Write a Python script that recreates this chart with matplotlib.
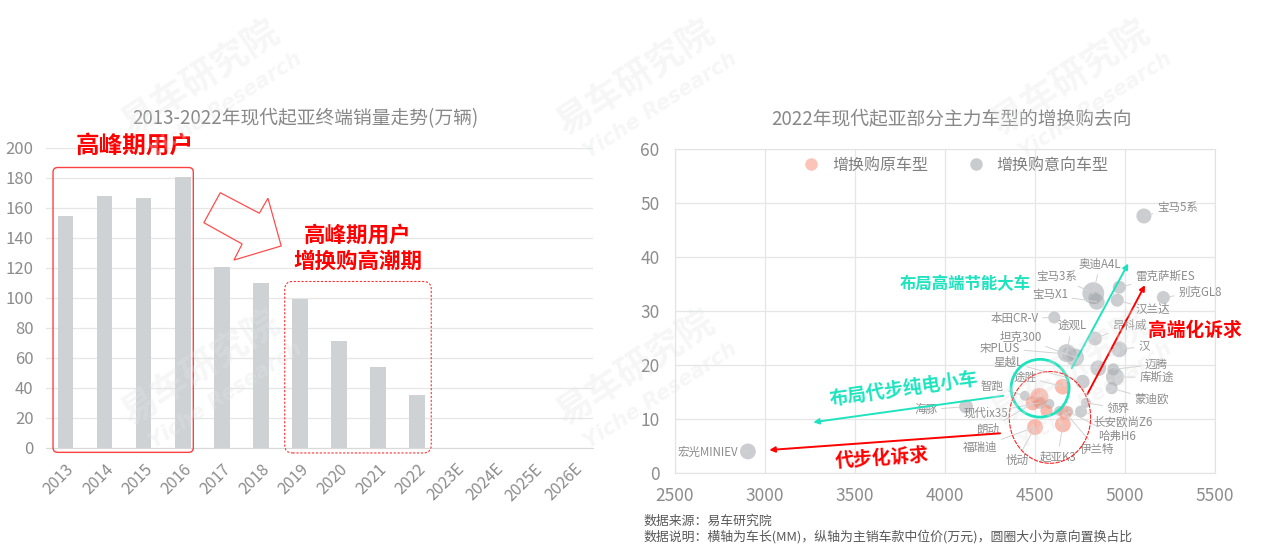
import matplotlib
matplotlib.use('Agg')
import matplotlib.pyplot as plt
from matplotlib.patches import FancyBboxPatch, Polygon, Ellipse
from matplotlib.lines import Line2D
import numpy as np

plt.rcParams['font.family'] = ['Noto Sans CJK SC', 'DejaVu Sans']

# ---------------- data: left chart ----------------
years = ['2013', '2014', '2015', '2016', '2017', '2018', '2019', '2020',
         '2021', '2022', '2023E', '2024E', '2025E', '2026E']
sales = [155, 168, 167, 181, 120.5, 110, 99.5, 71.5, 54, 35.5]  # 万辆, 2013-2022

# ---------------- data: right chart ----------------
# 增换购意向车型 (gray)
intent_names = ['宏光MINIEV', '宝马5系', '别克GL8', '雷克萨斯ES', '奥迪A4L', '宝马3系',
                '宝马X1', '汉兰达', '本田CR-V', '昂科威', '途观L', '坦克300', '宋PLUS',
                '汉', '迈腾A', '迈腾', '库斯途', '星越L', '蒙迪欧', '领界', '智跑',
                '海豚', '现代ix35', '意向A', '长安欧尚Z6', '哈弗H6', '意向B']
intent_len = [2905, 5105, 5213, 4968, 4824, 4843, 4830, 4957, 4607, 4833, 4676, 4722, 4690,
              4968, 4852, 4935, 4944, 4765, 4926, 4783, 4444, 4117, 4524, 4580, 4756, 4685, 4635]
intent_price = [4.0, 47.6, 32.5, 34.4, 33.3, 31.7, 32.4, 32.0, 28.8, 24.9, 22.2, 21.4, 22.0,
                22.9, 19.4, 19.2, 17.8, 16.9, 15.7, 13.0, 14.3, 12.3, 13.0, 12.8, 11.4, 11.4, 11.5]
intent_share = [10, 9, 6.8, 6.8, 19, 10, 6, 6.8, 5.8, 7.8, 13, 13, 8,
                10, 10, 5.8, 13, 7.8, 5.8, 4, 4, 7.8, 5.8, 4, 5.8, 4, 4]

# 增换购原车型 (pink)
orig_names = ['途胜', '智跑原', '朗动', '原车A', '福瑞迪', '起亚K3', '伊兰特']
orig_len = [4654, 4524, 4487, 4564, 4500, 4655, 4668]
orig_price = [16.0, 14.1, 12.9, 11.5, 8.5, 9.0, 11.2]
orig_share = [10, 13, 7.8, 6, 10, 10, 7.8]

# labels: text, bubble it refers to
label_text = ['宏光MINIEV', '宝马5系', '别克GL8', '雷克萨斯ES', '奥迪A4L', '宝马3系', '宝马X1',
              '汉兰达', '本田CR-V', '昂科威', '途观L', '坦克300', '宋PLUS', '汉', '迈腾',
              '库斯途', '星越L', '蒙迪欧', '领界', '智跑', '海豚', '现代ix35', '长安欧尚Z6',
              '哈弗H6', '途胜', '朗动', '福瑞迪', '悦动', '起亚K3', '伊兰特']
label_target = ['宏光MINIEV', '宝马5系', '别克GL8', '雷克萨斯ES', '奥迪A4L', '奥迪A4L', '宝马3系',
                '汉兰达', '本田CR-V', '昂科威', '途观L', '坦克300', '宋PLUS', '汉', '迈腾',
                '库斯途', '星越L', '蒙迪欧', '领界', '智跑', '海豚', '现代ix35', '长安欧尚Z6',
                '哈弗H6', '途胜', '朗动', '福瑞迪', '福瑞迪', '起亚K3', '伊兰特']
label_x = [2850, 5178, 5296, 5056, 4861, 4620, 4583, 5056, 4519, 4930, 4704, 4537, 4417, 5074,
           5107, 5080, 4431, 5052, 4898, 4328, 3957, 4352, 4824, 4850, 4506, 4302, 4291, 4463,
           4524, 4750]
label_y = [3.8, 49.1, 33.5, 36.4, 38.7, 36.4, 33.0, 30.2, 28.6, 27.4, 27.2, 25.2, 23.1, 23.4,
           20.1, 17.7, 20.6, 13.6, 12.0, 16.0, 11.7, 11.1, 9.4, 6.8, 17.8, 8.0, 4.8, 2.4,
           3.0, 4.3]
label_ha = ['right', 'left', 'left', 'left', 'center', 'center', 'center', 'left', 'right',
            'left', 'center', 'right', 'right', 'left', 'left', 'left', 'right', 'left', 'left',
            'right', 'right', 'right', 'left', 'left', 'right', 'right', 'right', 'right',
            'left', 'left']

# ---------------- figure ----------------
W, H = 1268, 552
fig = plt.figure(figsize=(W / 100, H / 100), dpi=100)


def px_axes(l, t, r, b):
    return [l / W, 1 - b / H, (r - l) / W, (b - t) / H]


def fx(x):
    return x / W


def fy(y):
    return 1 - y / H


TICK_C = '#8c8c8c'
GRID_C = '#e6e6e6'
RED = '#ff0000'
CYAN = '#1fe3bf'

# ---------------- left chart ----------------
axL = fig.add_axes(px_axes(46, 148, 593, 448))
xpos = np.arange(len(years))
axL.bar(xpos[:len(sales)], sales, width=0.4, color='#cfd2d5', zorder=2)
axL.set_xlim(-0.5, len(years) - 0.5)
axL.set_ylim(0, 200)
axL.set_yticks(np.arange(0, 201, 20))
axL.set_xticks(xpos)
axL.set_xticklabels(years, rotation=45, ha='right', va='top', rotation_mode='anchor')
axL.grid(axis='y', color=GRID_C, lw=0.9, zorder=0)
for s in ['left', 'top', 'right']:
    axL.spines[s].set_visible(False)
axL.spines['bottom'].set_color('#d9d9d9')
axL.tick_params(axis='both', length=0, labelcolor=TICK_C)
axL.tick_params(axis='y', labelsize=12, pad=9)
axL.tick_params(axis='x', labelsize=11.5, pad=9)

asp = 39.1 / 1.5
box1 = FancyBboxPatch((-0.32, -2.9), 3.59, 189.9,
                      boxstyle='round,pad=0,rounding_size=0.12', mutation_aspect=asp,
                      fill=False, edgecolor='#ff4040', lw=1.0, clip_on=False, zorder=4)
axL.add_patch(box1)
box2 = FancyBboxPatch((5.61, -3.3), 3.75, 114.3,
                      boxstyle='round,pad=0,rounding_size=0.2', mutation_aspect=asp,
                      fill=False, edgecolor='#ff3030', lw=0.8, linestyle=(0, (2, 1.5)),
                      clip_on=False, zorder=4)
axL.add_patch(box2)
arrow_poly = Polygon([(3.54, 150.2), (3.96, 170.2), (4.96, 156.5), (5.18, 166.5),
                      (5.52, 134.7), (4.31, 125.3), (4.52, 136.0)], closed=True,
                     fill=False, edgecolor='#ff4d4d', lw=0.9, clip_on=False, zorder=4)
axL.add_patch(arrow_poly)
axL.text(1.76, 200.7, '高峰期用户', color=RED, fontsize=17, fontweight='bold',
         ha='center', va='center', clip_on=False, zorder=5)
axL.text(7.48, 142, '高峰期用户', color=RED, fontsize=15.5, fontweight='bold',
         ha='center', va='center', clip_on=False, zorder=5)
axL.text(7.48, 124.5, '增换购高潮期', color=RED, fontsize=15.5, fontweight='bold',
         ha='center', va='center', clip_on=False, zorder=5)

fig.text(fx(305), fy(119), '2013-2022年现代起亚终端销量走势(万辆)', fontsize=13.5,
         color='#888888', ha='center', va='center')

# ---------------- right chart ----------------
axR = fig.add_axes(px_axes(675, 149, 1215, 473))
axR.set_xlim(2500, 5500)
axR.set_ylim(0, 60)
axR.set_xticks(np.arange(2500, 5501, 500))
axR.set_yticks(np.arange(0, 61, 10))
axR.grid(True, color=GRID_C, lw=0.9, zorder=0)
axR.set_axisbelow(True)
for s in axR.spines.values():
    s.set_color('#e3e3e3')
axR.tick_params(axis='both', length=0, labelcolor=TICK_C, labelsize=12.5)
axR.tick_params(axis='y', pad=11)
axR.tick_params(axis='x', pad=10)

SC = 13.0
axR.scatter(intent_len, intent_price, s=np.array(intent_share) * SC, color='#a9adb1',
            alpha=0.6, edgecolors='none', zorder=3)
axR.scatter(orig_len, orig_price, s=np.array(orig_share) * SC, color='#f58e79',
            alpha=0.6, edgecolors='none', zorder=4)

pos = {}
for n, x, y in zip(intent_names, intent_len, intent_price):
    pos[n] = (x, y)
for n, x, y in zip(orig_names, orig_len, orig_price):
    pos[n] = (x, y)

for t, tgt, lx, ly, ha in zip(label_text, label_target, label_x, label_y, label_ha):
    axR.annotate(t, xy=pos[tgt], xytext=(lx, ly), ha=ha, va='center', fontsize=8.3,
                 color='#8c8c8c', zorder=6,
                 arrowprops=dict(arrowstyle='-', color='#d2d2d2', lw=0.7,
                                 shrinkA=1, shrinkB=0))

axR.add_patch(Ellipse((4528, 15.7), 322, 10.7, fill=False, edgecolor=CYAN, lw=2.0, zorder=7))
axR.add_patch(Ellipse((4583, 10.3), 452, 17.0, fill=False, edgecolor='#ff2020', lw=0.8,
                      linestyle=(0, (4, 1)), zorder=7))


def arrow(start, end, color):
    axR.annotate('', xy=end, xytext=start,
                 arrowprops=dict(arrowstyle='-|>', color=color, lw=1.4,
                                 mutation_scale=8, shrinkA=0, shrinkB=0),
                 annotation_clip=False, zorder=8)


arrow((4704, 19.4), (5018, 38.8), CYAN)
arrow((4791, 14.6), (5111, 34.8), RED)
arrow((4324, 14.3), (3268, 9.4), CYAN)
arrow((4306, 7.35), (3024, 4.26), RED)

axR.text(4111, 35.0, '布局高端节能大车', color=CYAN, fontsize=11.8, fontweight='bold',
         ha='center', va='center', zorder=9)
axR.text(5389, 26.5, '高端化诉求', color=RED, fontsize=13.5, fontweight='bold',
         ha='center', va='center', zorder=9, clip_on=False)
axR.text(3769, 15.6, '布局代步纯电小车', color=CYAN, fontsize=13.5, fontweight='bold',
         ha='center', va='center', rotation=8, zorder=9)
axR.text(3650, 2.8, '代步化诉求', color=RED, fontsize=13.5, fontweight='bold',
         ha='center', va='center', rotation=4, zorder=9)

handles = [Line2D([], [], marker='o', linestyle='', markersize=9,
                  markerfacecolor='#fbc4b9', markeredgecolor='none'),
           Line2D([], [], marker='o', linestyle='', markersize=9,
                  markerfacecolor='#c9cbce', markeredgecolor='none')]
axR.legend(handles, ['增换购原车型', '增换购意向车型'], loc='upper center',
           bbox_to_anchor=(0.513, 1.005), ncol=2, frameon=False, fontsize=11.5,
           labelcolor='#7f7f7f', handletextpad=0.3, columnspacing=2.0, borderaxespad=0.2)

fig.text(fx(951), fy(119), '2022年现代起亚部分主力车型的增换购去向', fontsize=13.5,
         color='#888888', ha='center', va='center')

fig.text(fx(643), fy(521), '数据来源：易车研究院', fontsize=9.3, color='#595959',
         ha='left', va='center')
fig.text(fx(643), fy(537),
         '数据说明：横轴为车长(MM)，纵轴为主销车款中位价(万元)，圆圈大小为意向置换占比',
         fontsize=9.3, color='#595959', ha='left', va='center')

# watermarks
for cx, cy in [(200, 78), (635, 78), (1070, 78), (200, 368), (635, 368), (1070, 368)]:
    fig.text(fx(cx), fy(cy), '易车研究院', fontsize=26, fontweight='bold', color='#e2e4e6',
             alpha=0.3, rotation=33, ha='center', va='center', rotation_mode='anchor')
    fig.text(fx(cx + 25), fy(cy + 27), 'Yiche Research', fontsize=15, fontweight='bold',
             style='italic', color='#e2e4e6', alpha=0.3, rotation=33, ha='center',
             va='center', rotation_mode='anchor', family='DejaVu Sans')

fig.savefig('out.png', dpi=100)
